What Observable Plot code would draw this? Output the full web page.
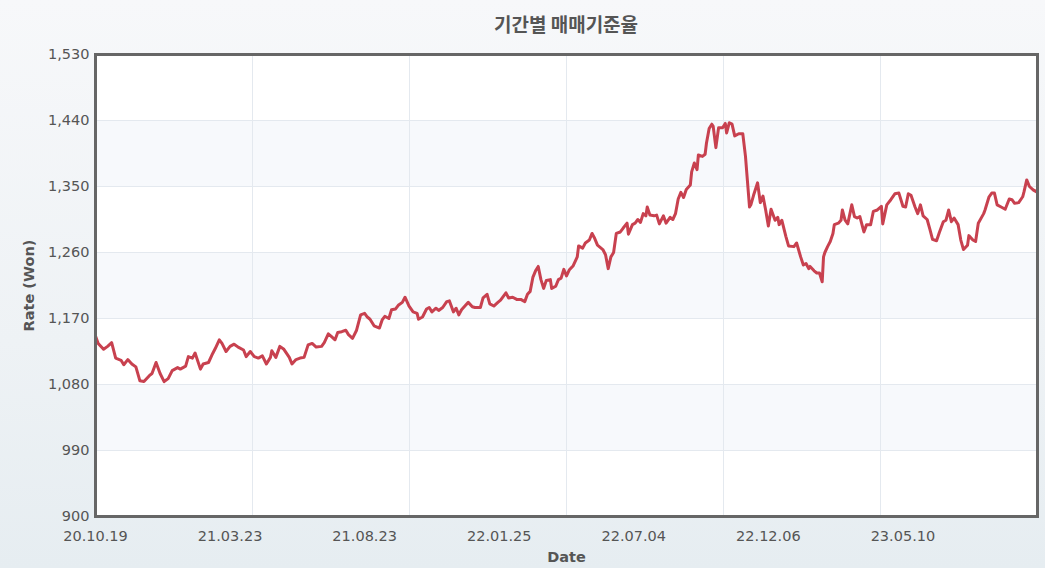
<!DOCTYPE html>
<html>
<head>
<meta charset="utf-8">
<script src="https://cdn.jsdelivr.net/npm/d3@7"></script>
<script src="https://cdn.jsdelivr.net/npm/@observablehq/plot@0.6"></script>
<style>
  html, body { margin: 0; padding: 0; }
  body {
    width: 1045px; height: 568px; overflow: hidden;
    background: linear-gradient(to bottom, #f7f8fa 0%, #eef2f5 60%, #e6edf1 100%);
  }
  #title {
    position: relative; height: 44px; width: 942px; margin-left: 95px;
    text-align: center; line-height: 48px;
    font-family: "Noto Sans CJK KR", "Noto Sans", sans-serif; font-weight: bold;
    font-size: 19px; color: #555;
  }
  #chart svg { display: block; overflow: visible; }
  g[aria-label="x-axis label"] text, g[aria-label="y-axis label"] text,
  g[aria-label="x-axis label"], g[aria-label="y-axis label"] { font-weight: bold; }
</style>
</head>
<body>
<div id="title">기간별 매매기준율</div>
<div id="chart"></div>
<script>
// Trading-day index (0 = 20.10.19) and base rate (Won)
const rateByDay = [
  [0,1146],[2,1136],[6,1128],[9,1132],[12,1137],[15,1116],[19,1113],[21,1107],[24,1114],[27,1108],
  [30,1104],[33,1085],[36,1084],[40,1092],[42,1095],[45,1110],[48,1095],[51,1084],[54,1088],[57,1099],
  [61,1103],[63,1101],[67,1105],[69,1118],[72,1116],[74,1123],[78,1101],[80,1108],[84,1110],[87,1122],
  [89,1129],[92,1141],[94,1136],[97,1125],[100,1132],[103,1135],[106,1131],[110,1127],[112,1118],[115,1125],
  [118,1118],[121,1116],[124,1119],[127,1108],[130,1117],[131,1126],[134,1117],[137,1132],[140,1128],[144,1117],
  [146,1108],[149,1114],[152,1116],[155,1117],[158,1134],[161,1136],[164,1131],[168,1132],[170,1137],[173,1149],
  [175,1146],[178,1141],[180,1151],[183,1152],[186,1154],[188,1148],[191,1143],[194,1154],[197,1175],[200,1177],
  [202,1172],[204,1169],[207,1160],[211,1157],[213,1168],[215,1173],[218,1170],[220,1182],[223,1183],[225,1188],
  [228,1192],[230,1199],[233,1187],[236,1179],[239,1177],[240,1169],[243,1172],[246,1183],[248,1185],[250,1179],
  [253,1184],[255,1181],[258,1185],[261,1193],[263,1194],[266,1179],[268,1184],[270,1175],[272,1182],[275,1188],
  [277,1192],[280,1186],[282,1185],[286,1185],[288,1198],[291,1203],[293,1190],[296,1187],[299,1192],[301,1195],
  [305,1205],[307,1198],[310,1199],[313,1196],[316,1196],[319,1193],[321,1203],[323,1207],[325,1226],[327,1235],
  [329,1241],[331,1223],[333,1211],[335,1222],[338,1223],[339,1211],[342,1214],[344,1223],[346,1225],[348,1237],
  [350,1228],[352,1236],[355,1242],[358,1254],[359,1269],[362,1266],[364,1273],[367,1277],[369,1286],[371,1279],
  [373,1270],[375,1267],[377,1264],[379,1257],[381,1238],[383,1254],[385,1260],[387,1286],[390,1288],[392,1293],
  [395,1300],[396,1285],[399,1298],[401,1300],[403,1305],[405,1301],[407,1313],[409,1310],[410,1322],[412,1311],
  [415,1310],[417,1311],[419,1299],[422,1310],[424,1300],[427,1308],[429,1305],[431,1313],[433,1333],[435,1342],
  [437,1335],[439,1346],[442,1352],[443,1370],[445,1382],[447,1373],[448,1393],[451,1391],[453,1394],[454,1409],
  [456,1429],[458,1435],[459,1432],[461,1403],[463,1430],[466,1430],[468,1436],[469,1423],[471,1437],[473,1435],
  [475,1419],[478,1422],[481,1422],[483,1391],[484,1368],[486,1322],[487,1325],[489,1338],[492,1355],[494,1328],
  [496,1337],[498,1318],[500,1296],[502,1319],[505,1304],[507,1308],[508,1298],[510,1304],[513,1282],[515,1269],
  [519,1268],[521,1273],[524,1254],[526,1243],[528,1245],[530,1238],[531,1241],[534,1235],[536,1232],[538,1232],
  [540,1220],[541,1254],[542,1260],[544,1268],[546,1275],[548,1286],[549,1298],[552,1300],[554,1304],[555,1318],
  [557,1304],[559,1299],[562,1325],[564,1309],[566,1307],[568,1309],[571,1288],[573,1298],[576,1298],[578,1316],
  [581,1318],[584,1323],[585,1299],[588,1325],[591,1332],[594,1340],[597,1341],[600,1323],[602,1322],[604,1340],
  [606,1338],[609,1322],[611,1313],[613,1325],[615,1310],[618,1305],[620,1292],[622,1278],[625,1276],[627,1287],
  [630,1302],[632,1304],[634,1318],[636,1302],[638,1307],[641,1298],[643,1277],[645,1264],[648,1270],[649,1283],
  [652,1277],[654,1275],[656,1300],[660,1313],[661,1318],[664,1336],[666,1341],[668,1341],[670,1325],[673,1322],
  [676,1319],[679,1333],[681,1332],[683,1327],[686,1328],[689,1336],[690,1343],[692,1359],[694,1350],[697,1345],
  [699,1343],[700,1346]
];
const lastDay = 700;
const xTickDays = [0, 100, 200, 300, 400, 500, 600];
const xTickLabels = ["20.10.19", "21.03.23", "21.08.23", "22.01.25", "22.07.04", "22.12.06", "23.05.10"];
const yTicks = [900, 990, 1080, 1170, 1260, 1350, 1440, 1530];

const data = rateByDay.map(([day, rate]) => ({day, rate}));
const bands = [];
for (let i = 1; i < yTicks.length - 1; i += 2) bands.push({x1: 0, x2: lastDay, y1: yTicks[i], y2: yTicks[i + 1]});
const gridXs = d3.range(1, 6).map(k => lastDay * k / 6);

const chart = Plot.plot({
  width: 1045, height: 524,
  marginTop: 10, marginLeft: 95, marginRight: 8, marginBottom: 52,
  style: {background: "transparent", fontFamily: "DejaVu Sans, Verdana, sans-serif", fontSize: "14.5px", color: "#555"},
  x: {domain: [0, lastDay]},
  y: {domain: [yTicks[0], yTicks[yTicks.length - 1]]},
  marks: [
    Plot.frame({fill: "white"}),
    Plot.rect(bands, {x1: "x1", x2: "x2", y1: "y1", y2: "y2", fill: "#f7f9fc"}),
    Plot.gridY(yTicks, {stroke: "#e4e9ef", strokeOpacity: 1}),
    Plot.gridX(gridXs, {stroke: "#e4e9ef", strokeOpacity: 1}),
    Plot.line(data, {x: "day", y: "rate", stroke: "#c8414f", strokeWidth: 3, strokeLinejoin: "round"}),
    Plot.frame({stroke: "#666", strokeWidth: 3}),
    Plot.axisY(yTicks, {tickFormat: d => d.toLocaleString("en-US"), tickSize: 0, tickPadding: 6,
      label: "Rate (Won)", labelAnchor: "center", labelOffset: 72, labelArrow: "none"}),
    Plot.axisX(xTickDays, {tickFormat: d => xTickLabels[xTickDays.indexOf(d)], tickSize: 0, tickPadding: 14,
      label: "Date", labelAnchor: "center", labelOffset: 45, labelArrow: "none"})
  ]
});
document.getElementById("chart").appendChild(chart);
</script>
</body>
</html>
